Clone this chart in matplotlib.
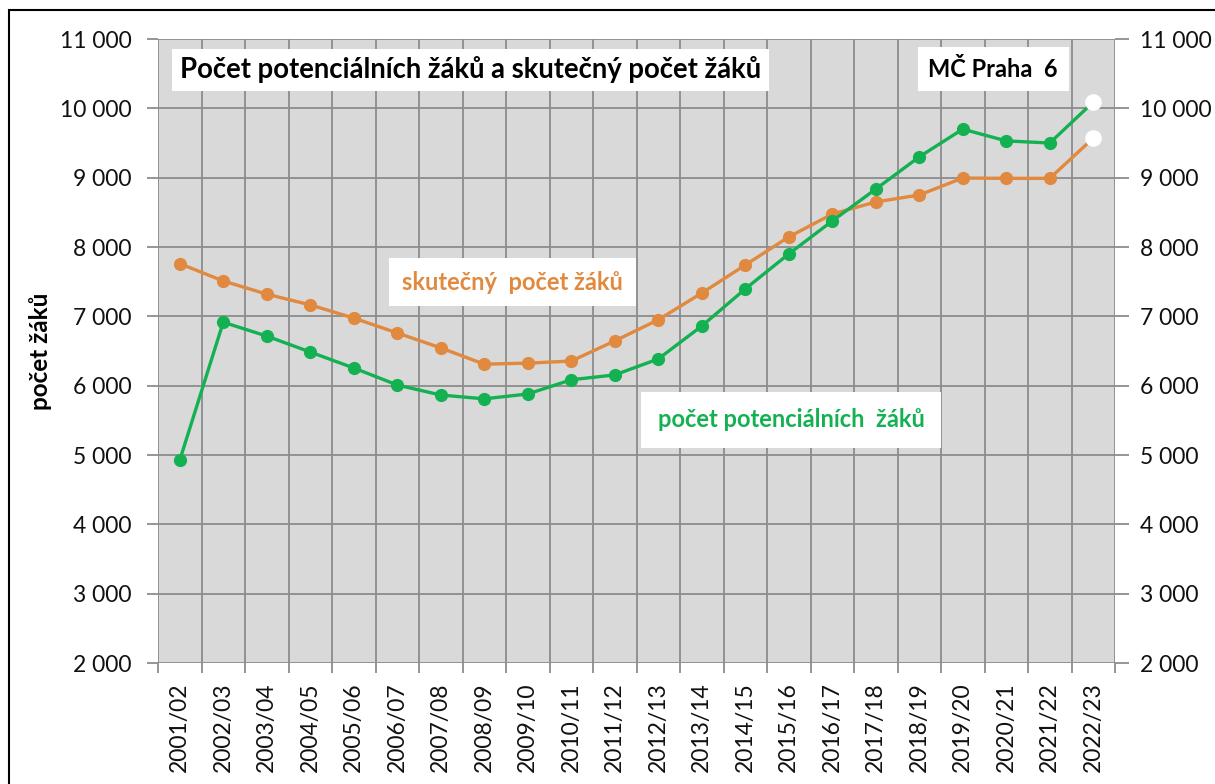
import matplotlib.pyplot as plt
from matplotlib.patches import Rectangle

# school years on the x axis
years = ['2001/02', '2002/03', '2003/04', '2004/05', '2005/06', '2006/07',
         '2007/08', '2008/09', '2009/10', '2010/11', '2011/12', '2012/13',
         '2013/14', '2014/15', '2015/16', '2016/17', '2017/18', '2018/19',
         '2019/20', '2020/21', '2021/22', '2022/23']

# actual number of pupils
skutecny = [7760, 7510, 7320, 7165, 6975, 6760, 6545, 6310, 6325, 6355,
            6645, 6950, 7335, 7740, 8145, 8475, 8650, 8750, 8995, 8990,
            8990, 9570]

# potential number of pupils
potencialni = [4925, 6915, 6715, 6485, 6255, 6010, 5865, 5810, 5880, 6085,
               6155, 6385, 6860, 7395, 7900, 8375, 8835, 9300, 9700, 9530,
               9500, 10090]

y_ticks = list(range(2000, 11001, 1000))
y_labels = ['{:,}'.format(v).replace(',', ' ') for v in y_ticks]

ORANGE = '#E0893F'
GREEN = '#13B151'
GRID = '#8C8C8C'
FONT = ['Lato', 'Open Sans', 'DejaVu Sans']

plt.rcParams['font.family'] = FONT

fig = plt.figure(figsize=(12.15, 7.84), dpi=100)
# outer frame of the chart object
fig.patches.append(Rectangle((9 / 1215, -0.1), 2, 1.1 - 10 / 784,
                             transform=fig.transFigure, fill=False,
                             edgecolor='black', linewidth=1.5))

ax = fig.add_axes([158 / 1215, 1 - 663 / 784, (1115 - 158) / 1215, (663 - 39) / 784])
ax.set_facecolor('#D9D9D9')

x = list(range(len(years)))
n = len(years)

ax.plot(x[:-1], skutecny[:-1], color=ORANGE, lw=2.4, marker='o', ms=8.5, zorder=3)
ax.plot(x[-2:], skutecny[-2:], color=ORANGE, lw=2.4, zorder=3)
ax.plot(x[-1], skutecny[-1], 'o', color='white', ms=11, zorder=4)

ax.plot(x[:-1], potencialni[:-1], color=GREEN, lw=2.4, marker='o', ms=8.5, zorder=3)
ax.plot(x[-2:], potencialni[-2:], color=GREEN, lw=2.4, zorder=3)
ax.plot(x[-1], potencialni[-1], 'o', color='white', ms=11, zorder=4)

ax.set_xlim(-0.5, n - 0.5)
ax.set_ylim(2000, 11000)

# gridlines between categories and at every thousand
for b in range(n + 1):
    ax.axvline(b - 0.5, color=GRID, lw=1.3, zorder=1)
for v in y_ticks:
    ax.axhline(v, color=GRID, lw=1.3, zorder=1)

ax.set_xticks(x)
ax.set_xticklabels(years, rotation=90, fontsize=16.5, color='#111111')
ax.tick_params(axis='x', length=0, pad=14)
ax.set_xticks([b - 0.5 for b in range(n + 1)], minor=True)
ax.tick_params(axis='x', which='minor', length=7, color=GRID, width=1.3)

ax.set_yticks(y_ticks)
ax.set_yticklabels(y_labels, fontsize=16.5, color='#111111')
ax.tick_params(axis='y', length=8, color=GRID, width=1.3, pad=11)

for s in ax.spines.values():
    s.set_visible(False)

ax2 = ax.twinx()
ax2.set_ylim(2000, 11000)
ax2.set_yticks(y_ticks)
ax2.set_yticklabels(y_labels, fontsize=16.5, color='#111111')
ax2.tick_params(axis='y', length=10, color=GRID, width=1.3, pad=8)
for s in ax2.spines.values():
    s.set_visible(False)

ax.set_ylabel('počet žáků', fontsize=17.5, fontweight='bold', labelpad=6)

ax.text(0.0, 10555, 'Počet potenciálních žáků a skutečný počet žáků',
        fontsize=19.8, fontweight='bold', color='black', va='center',
        bbox=dict(facecolor='white', edgecolor='none', boxstyle='square,pad=0.28'))
ax.text(18.7, 10567, 'MČ Praha  6', fontsize=17, fontweight='bold',
        color='black', va='center', ha='center',
        bbox=dict(facecolor='white', edgecolor='none', boxstyle='square,pad=0.45'))
ax.text(7.65, 7495, 'skutečný  počet žáků', fontsize=17, fontweight='bold',
        color=ORANGE, va='center', ha='center',
        bbox=dict(facecolor='white', edgecolor='none', boxstyle='square,pad=0.55'))
ax.text(14.06, 5505, 'počet potenciálních  žáků', fontsize=17, fontweight='bold',
        color=GREEN, va='center', ha='center',
        bbox=dict(facecolor='white', edgecolor='none', boxstyle='square,pad=0.7'))

fig.savefig('out.png', dpi=100)
